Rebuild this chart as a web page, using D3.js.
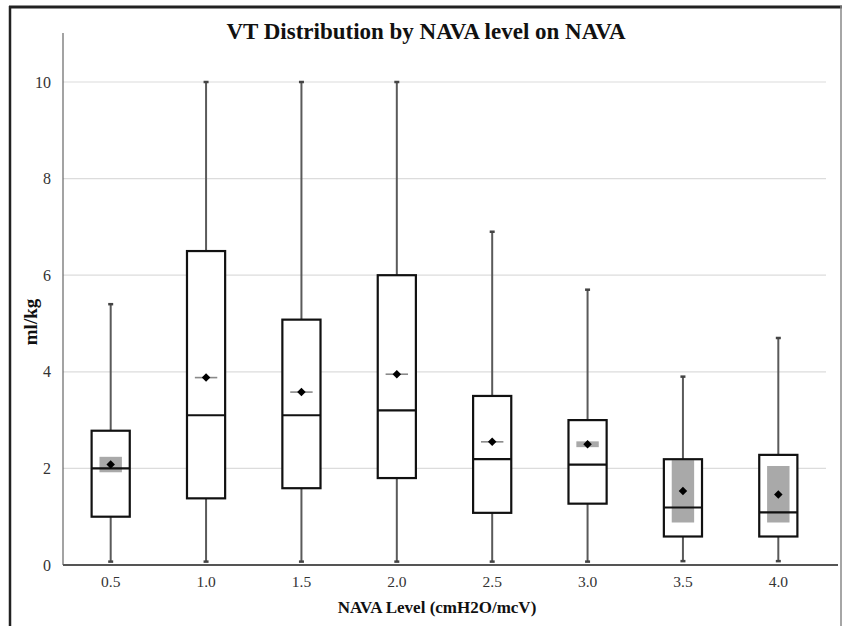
<!DOCTYPE html>
<html>
<head>
<meta charset="utf-8">
<script src="https://cdn.jsdelivr.net/npm/d3@7"></script>
<style>
  html, body { margin: 0; padding: 0; background: #fff; }
  svg { display: block; }
  text { font-family: "Liberation Serif", "Times New Roman", serif; }
</style>
</head>
<body>
<svg id="chart" width="842" height="626"></svg>
<script>
const levels   = ["0.5", "1.0", "1.5", "2.0", "2.5", "3.0", "3.5", "4.0"];
const minVals  = [0.07, 0.07, 0.07, 0.07, 0.07, 0.07, 0.08, 0.08];
const q1Vals   = [1.0, 1.38, 1.59, 1.8, 1.08, 1.27, 0.59, 0.59];
const medVals  = [2.0, 3.1, 3.1, 3.2, 2.19, 2.08, 1.19, 1.09];
const q3Vals   = [2.78, 6.5, 5.08, 6.0, 3.5, 3.0, 2.19, 2.28];
const maxVals  = [5.4, 10.0, 10.0, 10.0, 6.9, 5.7, 3.9, 4.7];
const meanVals = [2.08, 3.88, 3.58, 3.95, 2.55, 2.5, 1.53, 1.46];
const ciLow    = [1.92, 3.875, 3.575, 3.945, 2.545, 2.44, 0.88, 0.88];
const ciHigh   = [2.24, 3.885, 3.585, 3.955, 2.555, 2.56, 2.17, 2.05];
const yTicks   = [0, 2, 4, 6, 8, 10];

const title = "VT Distribution by NAVA level on NAVA";
const xTitle = "NAVA Level (cmH2O/mcV)";
const yTitle = "ml/kg";

const svg = d3.select("#chart");
const pLeft = 63, pRight = 826, pTop = 33, pBottom = 565;

const x = d3.scaleBand().domain(levels).range([pLeft, pRight]).paddingInner(0).paddingOuter(0);
const y = d3.scaleLinear().domain([0, 11]).range([pBottom, pBottom - 11 * 48.3]);

// frame
svg.append("line").attr("x1", 9).attr("x2", 842).attr("y1", 7).attr("y2", 7)
  .attr("stroke", "#222").attr("stroke-width", 3);
svg.append("line").attr("x1", 10).attr("x2", 10).attr("y1", 6).attr("y2", 626)
  .attr("stroke", "#222").attr("stroke-width", 2.5);
svg.append("line").attr("x1", 841).attr("x2", 841).attr("y1", 6).attr("y2", 626)
  .attr("stroke", "#888").attr("stroke-width", 1.5);

// gridlines
svg.append("g").selectAll("line").data(yTicks.filter(d => d > 0)).join("line")
  .attr("x1", pLeft).attr("x2", pRight)
  .attr("y1", d => y(d)).attr("y2", d => y(d))
  .attr("stroke", "#dcdcdc").attr("stroke-width", 1.2);

// y axis
const yAxis = d3.axisLeft(y).tickValues(yTicks).tickSize(0).tickPadding(12).tickFormat(d3.format("d"));
const gy = svg.append("g").attr("transform", `translate(${pLeft},0)`).call(yAxis);
gy.select(".domain").remove();
gy.selectAll("text").attr("font-size", 16).attr("fill", "#333")
  .style("font-family", "'Liberation Serif', serif");
svg.append("line").attr("x1", pLeft).attr("x2", pLeft).attr("y1", pTop).attr("y2", pBottom)
  .attr("stroke", "#666").attr("stroke-width", 1.2);

// x axis
const xAxis = d3.axisBottom(x).tickSize(0).tickPadding(11);
const gx = svg.append("g").attr("transform", `translate(0,${pBottom})`).call(xAxis);
gx.select(".domain").remove();
gx.selectAll("text").attr("font-size", 15.5).attr("fill", "#333")
  .style("font-family", "'Liberation Serif', serif");

const data = levels.map((l, i) => ({
  l, min: minVals[i], q1: q1Vals[i], med: medVals[i], q3: q3Vals[i], max: maxVals[i],
  mean: meanVals[i], lo: ciLow[i], hi: ciHigh[i]
}));

const bw = x.bandwidth();
const boxW = bw * 0.4;
const ciW = bw * 0.235;
const capW = 5;
const cx = d => x(d.l) + bw / 2;

const g = svg.append("g");

// whiskers
g.selectAll(".wu").data(data).join("line")
  .attr("x1", cx).attr("x2", cx).attr("y1", d => y(d.q3)).attr("y2", d => y(d.max))
  .attr("stroke", "#5a5a5a").attr("stroke-width", 2);
g.selectAll(".wl").data(data).join("line")
  .attr("x1", cx).attr("x2", cx).attr("y1", d => y(d.q1)).attr("y2", d => y(d.min))
  .attr("stroke", "#5a5a5a").attr("stroke-width", 2);
g.selectAll(".cu").data(data).join("line")
  .attr("x1", d => cx(d) - capW / 2).attr("x2", d => cx(d) + capW / 2)
  .attr("y1", d => y(d.max)).attr("y2", d => y(d.max))
  .attr("stroke", "#444").attr("stroke-width", 2.5);
g.selectAll(".cl").data(data).join("line")
  .attr("x1", d => cx(d) - capW / 2).attr("x2", d => cx(d) + capW / 2)
  .attr("y1", d => y(d.min)).attr("y2", d => y(d.min))
  .attr("stroke", "#444").attr("stroke-width", 2.5);

// boxes
g.selectAll(".box").data(data).join("rect")
  .attr("x", d => cx(d) - boxW / 2).attr("width", boxW)
  .attr("y", d => y(d.q3)).attr("height", d => y(d.q1) - y(d.q3))
  .attr("fill", "#fff");

// CI of mean (gray)
g.selectAll(".ci").data(data).join("rect")
  .attr("x", d => cx(d) - ciW / 2).attr("width", ciW)
  .attr("y", d => Math.min(y(d.hi), y(d.mean) - 0.8))
  .attr("height", d => Math.max(y(d.lo) - y(d.hi), 1.6))
  .attr("fill", d => (y(d.lo) - y(d.hi)) < 2 ? "#8a8a8a" : "#a9a9a9");

// box outlines
g.selectAll(".boxo").data(data).join("rect")
  .attr("x", d => cx(d) - boxW / 2).attr("width", boxW)
  .attr("y", d => y(d.q3)).attr("height", d => y(d.q1) - y(d.q3))
  .attr("fill", "none").attr("stroke", "#111").attr("stroke-width", 2.2);

// medians
g.selectAll(".med").data(data).join("line")
  .attr("x1", d => cx(d) - boxW / 2).attr("x2", d => cx(d) + boxW / 2)
  .attr("y1", d => y(d.med)).attr("y2", d => y(d.med))
  .attr("stroke", "#111").attr("stroke-width", 2.2);

// means (diamonds)
g.selectAll(".mean").data(data).join("path")
  .attr("d", d3.symbol(d3.symbolSquare, 36))
  .attr("transform", d => `translate(${cx(d)},${y(d.mean)}) rotate(45)`)
  .attr("fill", "#000");

// x axis line
svg.append("line").attr("x1", pLeft).attr("x2", 838).attr("y1", pBottom).attr("y2", pBottom)
  .attr("stroke", "#555").attr("stroke-width", 2);

// titles
svg.append("text").attr("x", 426).attr("y", 39).attr("text-anchor", "middle")
  .attr("font-size", 23).attr("font-weight", "bold").attr("fill", "#111").text(title);
svg.append("text").attr("x", 437).attr("y", 613).attr("text-anchor", "middle")
  .attr("font-size", 17).attr("font-weight", "bold").attr("fill", "#111").text(xTitle);
svg.append("text").attr("transform", "translate(37,322) rotate(-90)").attr("text-anchor", "middle")
  .attr("font-size", 19).attr("font-weight", "bold").attr("fill", "#111").text(yTitle);
</script>
</body>
</html>
